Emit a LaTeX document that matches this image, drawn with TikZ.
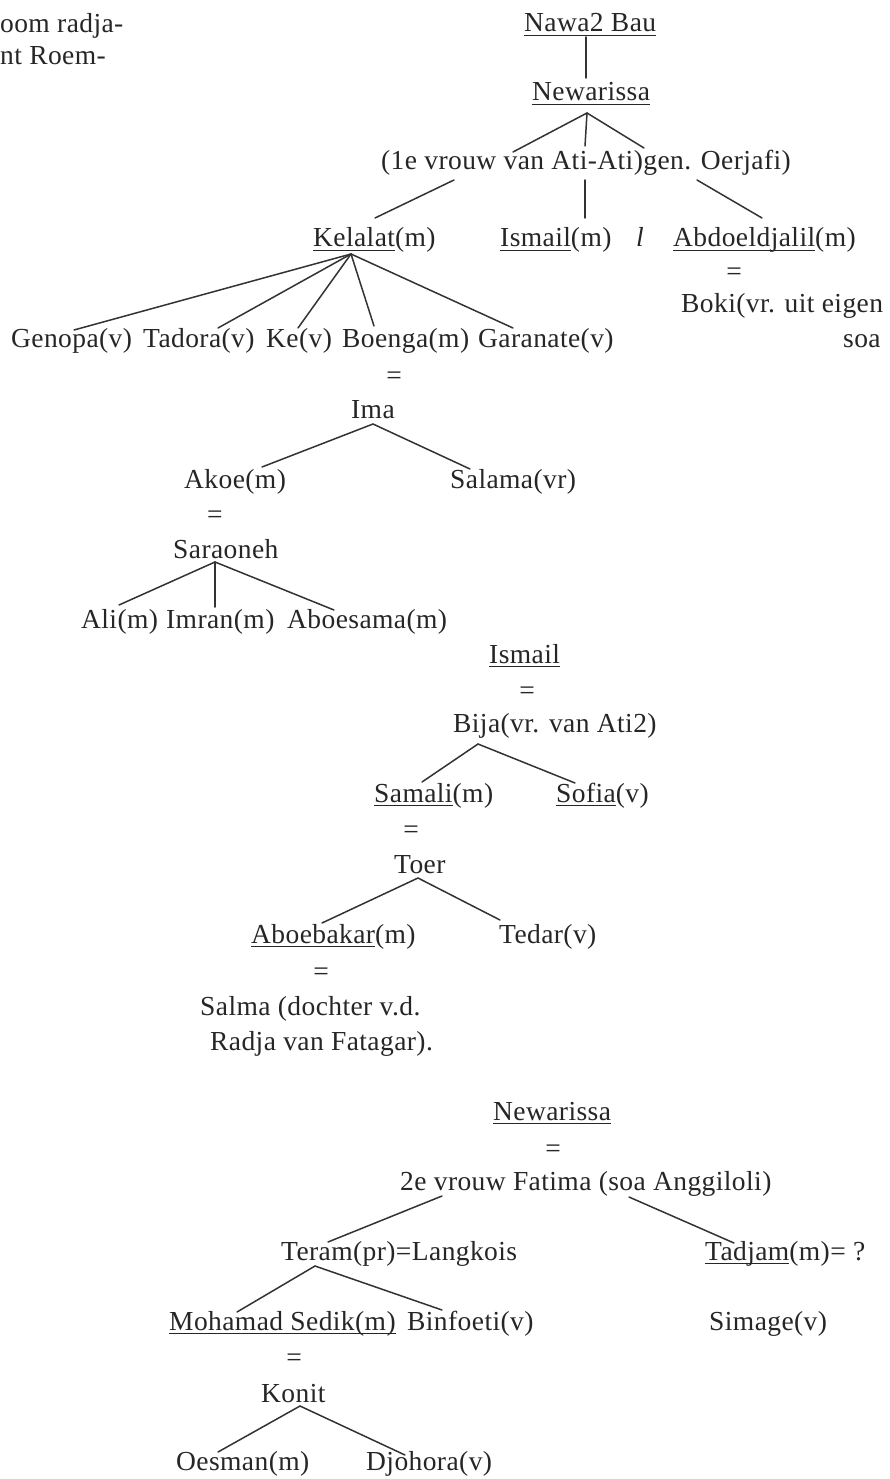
\documentclass[tikz,border=0pt]{standalone}
\usepackage{fontspec}
\setmainfont{Liberation Serif}[LetterSpace=1.5]
\definecolor{ink}{HTML}{262626}
\definecolor{stroke}{HTML}{333333}
\newcommand\ul[1]{\setbox0\hbox{#1}\rlap{\color{ink}\rule[-4pt]{\wd0}{1.2pt}}\box0}
\newcommand\link[6]{\draw[edge] ([xshift=#2pt,yshift=#3pt]#1.base west) -- ([xshift=#5pt,yshift=#6pt]#4.base west);}
\begin{document}
\begin{tikzpicture}[x=1pt,y=-1pt,
  lbl/.style={anchor=base west,inner sep=0pt,text=ink,font=\fontsize{27.5}{31}\selectfont},
  eqs/.style={anchor=base,inner sep=0pt,text=ink,font=\fontsize{27.5}{31}\selectfont},
  edge/.style={draw=stroke,line width=1.5pt,line cap=round}]
\useasboundingbox[fill=white] (0,0) rectangle (889,1479);

% fragments top left
\node[lbl] (fragA) at (0,33) {oom radja-};
\node[lbl] (fragB) at (0,65) {nt Roem-};

% first family
\node[lbl] (nawa) at (524,32) {\ul{Nawa2 Bau}};
\node[lbl] (newaA) at (532,101) {\ul{Newarissa}};
\node[lbl] (vrouwA) at (381,170) {(1e vrouw van Ati-Ati)gen. Oerjafi)};
\node[lbl] (kel) at (313,247) {\ul{Kelalat}(m)};
\node[lbl] (ismA) at (500,247) {\ul{Ismail}(m)};
\node[lbl] (sepl) at (636,247) {\itshape l};
\node[lbl] (abd) at (673,247) {\ul{Abdoeldjalil}(m)};
\node[eqs] (eqA) at (734,280) {=};
\node[lbl] (boki) at (681,312) {Boki(vr. uit eigen};
\node[lbl] (soa) at (843,347) {soa};

\link{nawa}{62}{-5}{newaA}{54}{23}
\link{newaA}{55}{-12}{vrouwA}{132}{18}
\link{newaA}{55}{-12}{vrouwA}{204}{24}
\link{newaA}{55}{-12}{vrouwA}{263}{22}
\link{vrouwA}{73}{-10}{kel}{62}{29}
\link{vrouwA}{204}{-10}{ismA}{85}{29}
\link{vrouwA}{316}{-10}{abd}{89}{29}

% children of Kelalat
\node[lbl] (genopa) at (11,347) {Genopa(v)};
\node[lbl] (tadora) at (143,347) {Tadora(v)};
\node[lbl] (ke) at (266,347) {Ke(v)};
\node[lbl] (boenga) at (342,347) {Boenga(m)};
\node[lbl] (garanate) at (478,347) {Garanate(v)};
\link{kel}{38}{-7}{genopa}{63}{17}
\link{kel}{38}{-7}{tadora}{75}{19}
\link{kel}{38}{-7}{ke}{32}{19}
\link{kel}{38}{-7}{boenga}{32}{21}
\link{kel}{38}{-7}{garanate}{35}{19}

\node[eqs] (eqB) at (394,384) {=};
\node[lbl] (ima) at (351,418) {Ima};
\node[lbl] (akoe) at (184,488) {Akoe(m)};
\node[lbl] (salama) at (450,488) {Salama(vr)};
\link{ima}{22}{-6}{akoe}{78}{21}
\link{ima}{22}{-6}{salama}{20}{19}

\node[eqs] (eqC) at (215,523) {=};
\node[lbl] (sara) at (173,558) {Saraoneh};
\node[lbl] (ali) at (81,628) {Ali(m)};
\node[lbl] (imran) at (166,628) {Imran(m)};
\node[lbl] (aboesama) at (287,628) {Aboesama(m)};
\link{sara}{42}{-4}{ali}{38}{23}
\link{sara}{42}{-4}{imran}{49}{21}
\link{sara}{42}{-4}{aboesama}{47}{18}

% Ismail branch
\node[lbl] (ismB) at (489,663) {\ul{Ismail}};
\node[eqs] (eqD) at (527,699) {=};
\node[lbl] (bija) at (453,732) {Bija(vr. van Ati2)};
\node[lbl] (samali) at (374,802) {\ul{Samali}(m)};
\node[lbl] (sofia) at (556,802) {\ul{Sofia}(v)};
\link{bija}{25}{-12}{samali}{48}{20}
\link{bija}{25}{-12}{sofia}{19}{19}

\node[eqs] (eqE) at (411,838) {=};
\node[lbl] (toer) at (394,873) {Toer};
\node[lbl] (aboebakar) at (251,943) {\ul{Aboebakar}(m)};
\node[lbl] (tedar) at (499,943) {Tedar(v)};
\link{toer}{24}{-5}{aboebakar}{71}{20}
\link{toer}{24}{-5}{tedar}{1}{23}

\node[eqs] (eqF) at (321,980) {=};
\node[lbl] (salma) at (200,1015) {Salma (dochter v.d.};
\node[lbl] (radja) at (210,1050) {Radja van Fatagar).};

% second wife
\node[lbl] (newaB) at (493,1120) {\ul{Newarissa}};
\node[eqs] (eqG) at (553,1157) {=};
\node[lbl] (vrouwB) at (400,1190) {2e vrouw Fatima (soa Anggiloli)};
\node[lbl] (teram) at (281,1260) {Teram(pr)=Langkois};
\node[lbl] (tadjam) at (705,1260) {\ul{Tadjam}(m)= ?};
\link{vrouwB}{42}{-6}{teram}{47}{18}
\link{vrouwB}{229}{-7}{tadjam}{29}{17}

\node[lbl] (mohamad) at (169,1330) {\ul{Mohamad Sedik(m)}};
\node[lbl] (binfoeti) at (407,1330) {Binfoeti(v)};
\node[lbl] (simage) at (709,1330) {Simage(v)};
\link{teram}{34}{-6}{mohamad}{68}{18}
\link{teram}{34}{-6}{binfoeti}{35}{20}

\node[eqs] (eqH) at (294,1366) {=};
\node[lbl] (konit) at (261,1402) {Konit};
\node[lbl] (oesman) at (176,1470) {Oesman(m)};
\node[lbl] (djohora) at (366,1470) {Djohora(v)};
\link{konit}{39}{-4}{oesman}{42}{18}
\link{konit}{39}{-4}{djohora}{39}{15}
\end{tikzpicture}
\end{document}
